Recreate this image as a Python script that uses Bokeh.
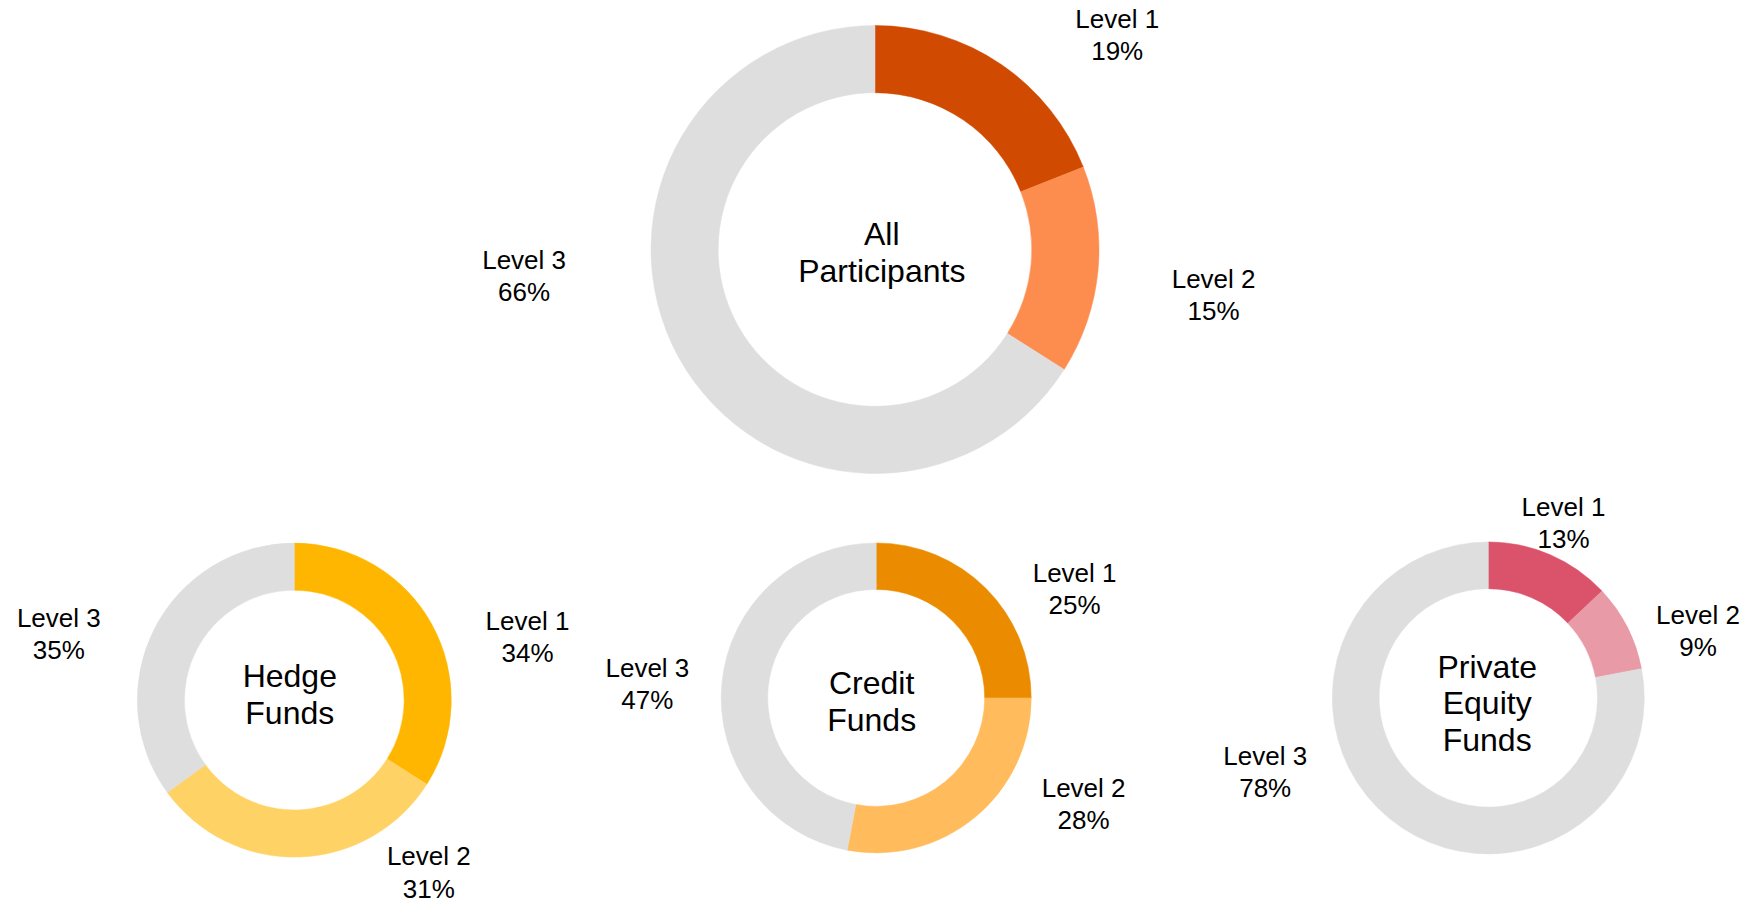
import math
from bokeh.plotting import figure
from bokeh.models import Range1d, ColumnDataSource
from bokeh.core.properties import value
from bokeh.embed import file_html
from bokeh.resources import INLINE

# ---------------- data ----------------
groups = ["All\nParticipants", "Hedge\nFunds", "Credit\nFunds", "Private\nEquity\nFunds"]
levels = ["Level 1", "Level 2", "Level 3"]
all_participants = [19, 15, 66]
hedge_funds = [34, 31, 35]
credit_funds = [25, 28, 47]
private_equity = [13, 9, 78]
series = [all_participants, hedge_funds, credit_funds, private_equity]

colors = [
    ["#D04A02", "#FD8C4F", "#DEDEDE"],
    ["#FFB600", "#FFD266", "#DEDEDE"],
    ["#EB8C00", "#FFBB5C", "#DEDEDE"],
    ["#DB536A", "#E89BA6", "#DEDEDE"],
]

# ---------------- layout (screen pixels, full page) ----------------
W, H = 1758, 904
centers = [(874.5, 249.0), (293.8, 699.6), (875.7, 697.4), (1487.8, 697.4)]
outer_r = [224.0, 157.0, 155.0, 156.0]
ratio = 0.70
label_pos = [
    [(1116.7, 34.8), (1213.1, 294.9), (523.6, 275.8)],
    [(527.0, 636.8), (428.3, 872.0), (58.3, 633.5)],
    [(1074.1, 588.6), (1083.1, 803.9), (646.9, 683.9)],
    [(1563.0, 522.5), (1697.5, 630.1), (1264.7, 771.4)],
]
center_text_pos = [(881.3, 252.3), (289.3, 694.0), (871.2, 700.8), (1486.7, 703.0)]


def dx(sx):
    return sx


def dy(sy):
    return H - sy


p = figure(width=W, height=H, output_backend="svg", toolbar_location=None,
           x_range=Range1d(0, W), y_range=Range1d(0, H), min_border=0)
p.axis.visible = False
p.grid.visible = False
p.outline_line_color = None
p.background_fill_color = "white"
p.border_fill_color = "white"

for gi, vals in enumerate(series):
    total = float(sum(vals))
    cum = 0.0
    starts, ends = [], []
    for v in vals:
        a0 = cum / total
        cum += v
        a1 = cum / total
        starts.append(math.pi / 2 - 2 * math.pi * a0)
        ends.append(math.pi / 2 - 2 * math.pi * a1)
    cx, cy = centers[gi]
    src = ColumnDataSource(dict(
        x=[dx(cx)] * len(vals), y=[dy(cy)] * len(vals),
        start=starts, end=ends, color=colors[gi],
    ))
    p.annular_wedge(x="x", y="y", inner_radius=outer_r[gi] * ratio,
                    outer_radius=outer_r[gi], start_angle="start", end_angle="end",
                    direction="clock", fill_color="color", line_color="color",
                    line_width=0.5, source=src)

    lsrc = ColumnDataSource(dict(
        x=[dx(px) for px, _ in label_pos[gi]],
        y=[dy(py) for _, py in label_pos[gi]],
        t=[f"{lv}\n{v}%" for lv, v in zip(levels, vals)],
    ))
    p.text(x="x", y="y", text="t", source=lsrc, text_align="center",
           text_baseline="middle", text_font=value("Liberation Sans"),
           text_font_size="26px", text_color="#000000", text_line_height=1.07)

    tx, ty = center_text_pos[gi]
    csrc = ColumnDataSource(dict(x=[dx(tx)], y=[dy(ty)], t=[groups[gi]]))
    p.text(x="x", y="y", text="t", source=csrc, text_align="center",
           text_baseline="middle", text_font=value("Liberation Sans"),
           text_font_size="32px", text_color="#000000", text_line_height=1.02)

open("out.html", "w").write(file_html(p, INLINE))
